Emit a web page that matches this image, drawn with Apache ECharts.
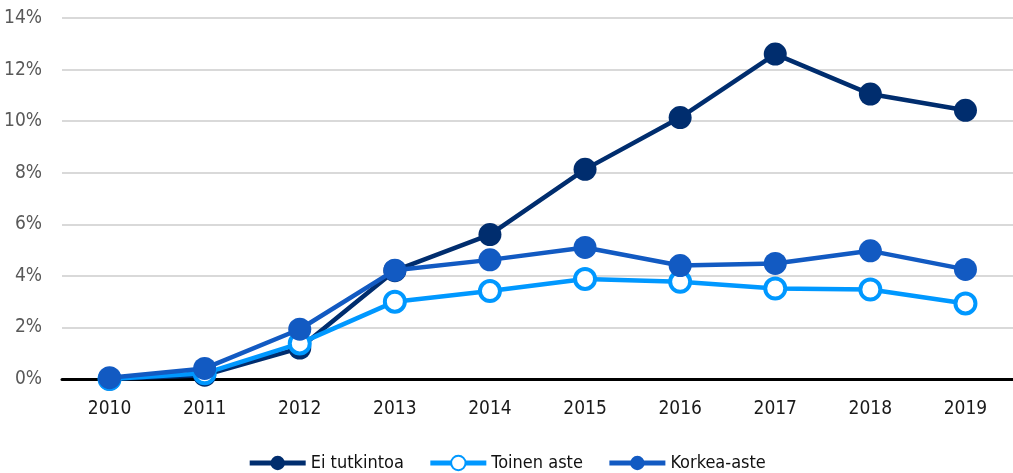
<!DOCTYPE html>
<html>
<head>
<meta charset="utf-8">
<script src="https://cdn.jsdelivr.net/npm/echarts@6/dist/echarts.min.js"></script>
<style>
  html, body { margin: 0; padding: 0; background: #fff; }
  #chart { width: 1013px; height: 473px; }
</style>
</head>
<body>
<div id="chart"></div>
<script>
// Years on the category axis
const years = ['2010', '2011', '2012', '2013', '2014', '2015', '2016', '2017', '2018', '2019'];

// Share (%) by education level
const eiTutkintoa = [0.0, 0.15, 1.2, 4.2, 5.6, 8.13, 10.14, 12.6, 11.05, 10.42];
const toinenAste  = [0.0, 0.22, 1.38, 3.0, 3.41, 3.88, 3.77, 3.51, 3.47, 2.93];
const korkeaAste  = [0.05, 0.41, 1.93, 4.22, 4.62, 5.1, 4.4, 4.48, 4.97, 4.25];

// Value axis ticks
const yTicks = [0, 2, 4, 6, 8, 10, 12, 14];

const FONT = '"Liberation Sans Narrow", "DejaVu Sans Condensed", "Roboto", sans-serif';

const chart = echarts.init(document.getElementById('chart'));
chart.setOption({
  animation: false,
  textStyle: { fontFamily: FONT },
  grid: { left: 62, right: -4, top: 18, bottom: 94 },
  legend: {
    top: 449,
    left: 'center',
    itemWidth: 56,
    itemHeight: 18,
    itemGap: 24,
    lineStyle: { width: 5 },
    textStyle: { fontFamily: FONT, fontSize: 18, color: '#111' },
    data: ['Ei tutkintoa', 'Toinen aste', 'Korkea-aste']
  },
  xAxis: {
    type: 'category',
    data: years,
    boundaryGap: true,
    axisLine: { lineStyle: { color: '#000', width: 3 } },
    axisTick: { show: false },
    axisLabel: { color: '#1a1a1a', fontSize: 19, margin: 21, fontFamily: FONT }
  },
  yAxis: {
    type: 'value',
    min: yTicks[0],
    max: yTicks[yTicks.length - 1],
    interval: 2,
    axisLine: { show: false },
    axisTick: { show: false },
    axisLabel: { color: '#595959', fontSize: 19, margin: 20, fontFamily: FONT, formatter: '{value}%' },
    splitLine: { lineStyle: { color: '#d9d9d9', width: 2 } }
  },
  series: [
    {
      name: 'Ei tutkintoa',
      type: 'line',
      data: eiTutkintoa,
      symbol: 'circle',
      symbolSize: 23,
      lineStyle: { color: '#002d6e', width: 4.5 },
      itemStyle: { color: '#002d6e' },
      z: 2
    },
    {
      name: 'Toinen aste',
      type: 'line',
      data: toinenAste,
      symbol: 'circle',
      symbolSize: 20,
      showAllSymbol: true,
      lineStyle: { color: '#0098ff', width: 4.5 },
      itemStyle: { color: '#ffffff', borderColor: '#0098ff', borderWidth: 4 },
      z: 3
    },
    {
      name: 'Korkea-aste',
      type: 'line',
      data: korkeaAste,
      symbol: 'circle',
      symbolSize: 23,
      lineStyle: { color: '#125ac2', width: 4.5 },
      itemStyle: { color: '#125ac2' },
      z: 4
    }
  ]
});
</script>
</body>
</html>
